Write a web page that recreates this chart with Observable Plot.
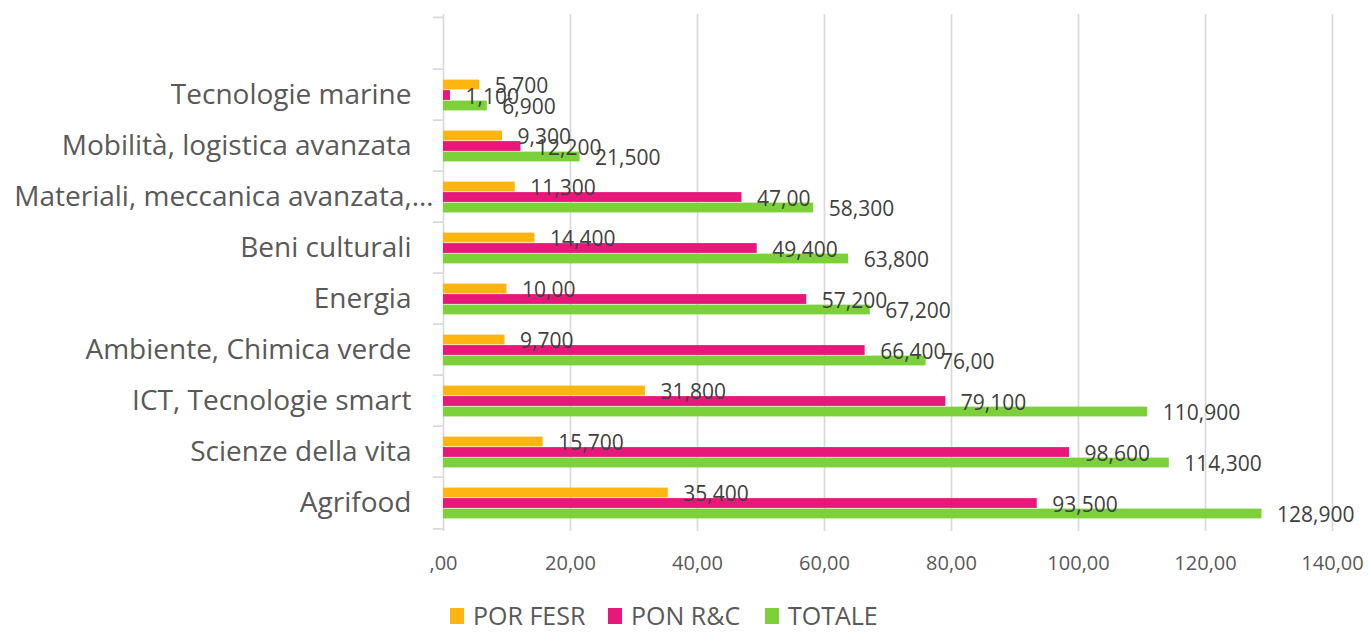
<!DOCTYPE html>
<html>
<head>
<meta charset="utf-8">
<script src="https://cdn.jsdelivr.net/npm/d3@7"></script>
<script src="https://cdn.jsdelivr.net/npm/@observablehq/plot@0.6"></script>
<style>
  html, body { margin: 0; padding: 0; background: #fff; overflow: hidden; }
  #wrap { position: relative; width: 1370px; height: 632px; font-family: "Open Sans", sans-serif; }
  #legend { position: absolute; top: 602px; left: 0; width: 1370px; height: 26px; font-size: 25px; line-height: 26px; color: #595959; }
  .item { position: absolute; top: 0; display: flex; align-items: center; height: 26px; white-space: nowrap; }
  .sw { width: 14px; height: 16px; margin-right: 9px; margin-top: 2px; }
</style>
</head>
<body>
<div id="wrap">
  <div id="chart"></div>
  <div id="legend"></div>
</div>
<script>
const categories = [
  "Tecnologie marine",
  "Mobilità, logistica avanzata",
  "Materiali, meccanica avanzata,…",
  "Beni culturali",
  "Energia",
  "Ambiente, Chimica verde",
  "ICT, Tecnologie smart",
  "Scienze della vita",
  "Agrifood"
];
const seriesNames = ["POR FESR", "PON R&C", "TOTALE"];
const seriesColors = ["#FFB50F", "#E8187A", "#7CD03A"];
const porFesr = [5.7, 9.3, 11.3, 14.4, 10.0, 9.7, 31.8, 15.7, 35.4];
const ponRC   = [1.1, 12.2, 47.0, 49.4, 57.2, 66.4, 79.1, 98.6, 93.5];
const totale  = [6.9, 21.5, 58.3, 63.8, 67.2, 76.0, 110.9, 114.3, 128.9];
const porFesrLabels = ["5,700","9,300","11,300","14,400","10,00","9,700","31,800","15,700","35,400"];
const ponRCLabels   = ["1,100","12,200","47,00","49,400","57,200","66,400","79,100","98,600","93,500"];
const totaleLabels  = ["6,900","21,500","58,300","63,800","67,200","76,00","110,900","114,300","128,900"];
const xTicks = [0, 20, 40, 60, 80, 100, 120, 140];
const legendLeft = [450, 608, 765];

const seriesValues = [porFesr, ponRC, totale];
const seriesLabels = [porFesrLabels, ponRCLabels, totaleLabels];
const rows = [];
seriesNames.forEach((s, si) => {
  categories.forEach((c, ci) => {
    rows.push({cat: c, series: s, si, value: seriesValues[si][ci], label: seriesLabels[si][ci]});
  });
});

const offsets = [-10, 0.5, 11];
const inset = 20.6;
const grey = "#d9d9d9";

const marks = [
  Plot.ruleX(xTicks, {stroke: grey, strokeWidth: 1.7})
];
// category tick marks at band boundaries
marks.push(Plot.ruleY(categories, {y: d => d, dy: -25.85, x1: -1.6, x2: 0, stroke: grey, strokeWidth: 1.7}));
marks.push(Plot.ruleY([categories[0]], {y: d => d, dy: -77.55, x1: -1.6, x2: 0, stroke: grey, strokeWidth: 1.7}));
marks.push(Plot.ruleY([categories[categories.length - 1]], {y: d => d, dy: 25.85, x1: -1.6, x2: 0, stroke: grey, strokeWidth: 1.7}));

seriesNames.forEach((s, si) => {
  marks.push(Plot.barX(rows.filter(r => r.si === si), {
    x: "value", y: "cat", fill: seriesColors[si],
    insetTop: inset, insetBottom: inset, dy: offsets[si]
  }));
});
seriesNames.forEach((s, si) => {
  marks.push(Plot.text(rows.filter(r => r.si === si), {
    x: "value", y: "cat", text: "label", textAnchor: "start",
    dx: 15, dy: offsets[si] + 1.5, fontSize: 21, fill: "#404040"
  }));
});
// category labels
marks.push(Plot.text(categories.filter(c => !c.endsWith("…")), {
  y: d => d, text: d => d, frameAnchor: "left", textAnchor: "end",
  dx: -32, fontSize: 28, fill: "#595959"
}));
marks.push(Plot.text(categories.filter(c => c.endsWith("…")), {
  y: d => d, text: d => d, frameAnchor: "left", textAnchor: "end",
  dx: -10, fontSize: 28, fill: "#595959"
}));

const chart = Plot.plot({
  width: 1370,
  height: 590,
  marginLeft: 443,
  marginRight: 38,
  marginTop: 14,
  marginBottom: 59,
  style: {fontFamily: "Open Sans, sans-serif", fontSize: "20px", color: "#595959", background: "#fff", overflow: "visible"},
  x: {domain: [0, 140], ticks: 7, tickFormat: d => d === 0 ? ",00" : d + ",00", tickSize: 0, tickPadding: 24, label: null},
  y: {domain: categories, range: [65.7, 531], padding: 0, axis: null},
  marks
});
document.getElementById("chart").appendChild(chart);

const legend = document.getElementById("legend");
seriesNames.forEach((s, i) => {
  const item = document.createElement("div");
  item.className = "item";
  item.style.left = legendLeft[i] + "px";
  const sw = document.createElement("div");
  sw.className = "sw";
  sw.style.background = seriesColors[i];
  const t = document.createElement("span");
  t.textContent = s;
  item.appendChild(sw);
  item.appendChild(t);
  legend.appendChild(item);
});
</script>
</body>
</html>
